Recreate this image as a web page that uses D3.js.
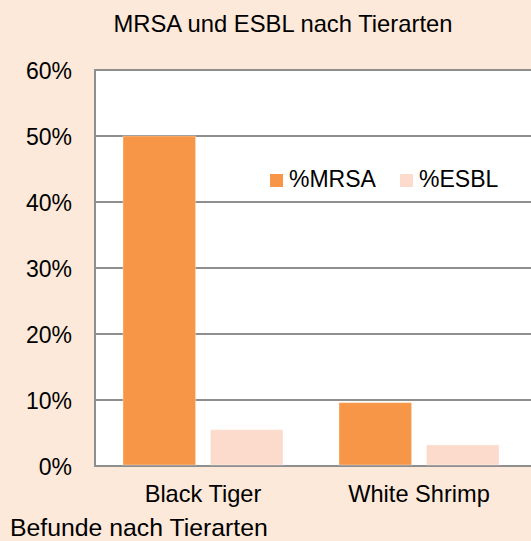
<!DOCTYPE html>
<html>
<head>
<meta charset="utf-8">
<script src="https://cdn.jsdelivr.net/npm/d3@7"></script>
<style>
  body { margin: 0; background: #FDE9D9; }
  svg { display: block; font-family: "Liberation Sans", Arial, sans-serif; }
</style>
</head>
<body>
<div id="chart"></div>
<script>
// Data
const categories = ["Black Tiger", "White Shrimp"];
const seriesNames = ["%MRSA", "%ESBL"];
const mrsa = [0.50, 0.096];
const esbl = [0.055, 0.032];
const yTicks = [0, 0.1, 0.2, 0.3, 0.4, 0.5, 0.6];

const width = 531, height = 541;
const plot = { left: 95, right: 527, top: 70, bottom: 466 };
const colors = { "%MRSA": "#F79646", "%ESBL": "#FCDBCD" };
const gridColor = "#8E8E8E";

const svg = d3.select("#chart").append("svg")
  .attr("width", width)
  .attr("height", height);

svg.append("rect")
  .attr("width", width).attr("height", height)
  .attr("fill", "#FDE9D9");

// Scales
const x0 = d3.scaleBand().domain(categories).range([plot.left, plot.right]).paddingInner(0).paddingOuter(0);
const x1 = d3.scaleBand().domain(seriesNames).range([0, x0.bandwidth()]).paddingInner(0.17).paddingOuter(0.32);
const y = d3.scaleLinear().domain([0, 0.6]).range([plot.bottom, plot.top]);

// Plot area (runs off the right edge like the original)
svg.append("rect")
  .attr("x", plot.left).attr("y", plot.top)
  .attr("width", width - plot.left + 10).attr("height", plot.bottom - plot.top)
  .attr("fill", "#fff");

// Gridlines
svg.append("g")
  .selectAll("line")
  .data(yTicks)
  .join("line")
  .attr("x1", plot.left).attr("x2", width + 10)
  .attr("y1", d => y(d)).attr("y2", d => y(d))
  .attr("stroke", gridColor)
  .attr("stroke-width", 2);

// Left axis line
svg.append("line")
  .attr("x1", plot.left).attr("x2", plot.left)
  .attr("y1", plot.top - 1).attr("y2", plot.bottom + 1)
  .attr("stroke", gridColor)
  .attr("stroke-width", 2);

// Y tick labels
svg.append("g")
  .selectAll("text")
  .data(yTicks)
  .join("text")
  .attr("x", 72)
  .attr("y", d => y(d) + 8.5)
  .attr("text-anchor", "end")
  .attr("font-size", "23px")
  .attr("fill", "#000")
  .text(d3.format(".0%"));

// Bars
const rows = categories.map((c, i) => ({ cat: c, values: [
  { key: "%MRSA", value: mrsa[i] },
  { key: "%ESBL", value: esbl[i] }
]}));

svg.append("g")
  .selectAll("g")
  .data(rows)
  .join("g")
  .attr("transform", d => `translate(${x0(d.cat)},0)`)
  .selectAll("rect")
  .data(d => d.values)
  .join("rect")
  .attr("x", d => x1(d.key))
  .attr("y", d => y(d.value))
  .attr("width", x1.bandwidth())
  .attr("height", d => y(0) - y(d.value) - 1)
  .attr("fill", d => colors[d.key])
  .attr("stroke", "#fff")
  .attr("stroke-opacity", 0.35)
  .attr("stroke-width", 1);

// X labels
svg.append("g")
  .selectAll("text")
  .data(categories)
  .join("text")
  .attr("x", d => x0(d) + x0.bandwidth() / 2)
  .attr("y", 502)
  .attr("text-anchor", "middle")
  .attr("font-size", "23.6px")
  .text(d => d);

// Title
svg.append("text")
  .attr("x", 283)
  .attr("y", 32)
  .attr("text-anchor", "middle")
  .attr("font-size", "23.8px")
  .text("MRSA und ESBL nach Tierarten");

// Axis title
svg.append("text")
  .attr("x", 10)
  .attr("y", 536)
  .attr("font-size", "24.8px")
  .text("Befunde nach Tierarten");

// Legend
const legendX = [270, 400];
const legend = svg.append("g")
  .selectAll("g")
  .data(seriesNames)
  .join("g")
  .attr("transform", (d, i) => `translate(${legendX[i]},174)`);

legend.append("rect")
  .attr("width", 13).attr("height", 13)
  .attr("fill", d => colors[d]);

legend.append("text")
  .attr("x", 19)
  .attr("y", 13)
  .attr("font-size", "23px")
  .text(d => d);
</script>
</body>
</html>
